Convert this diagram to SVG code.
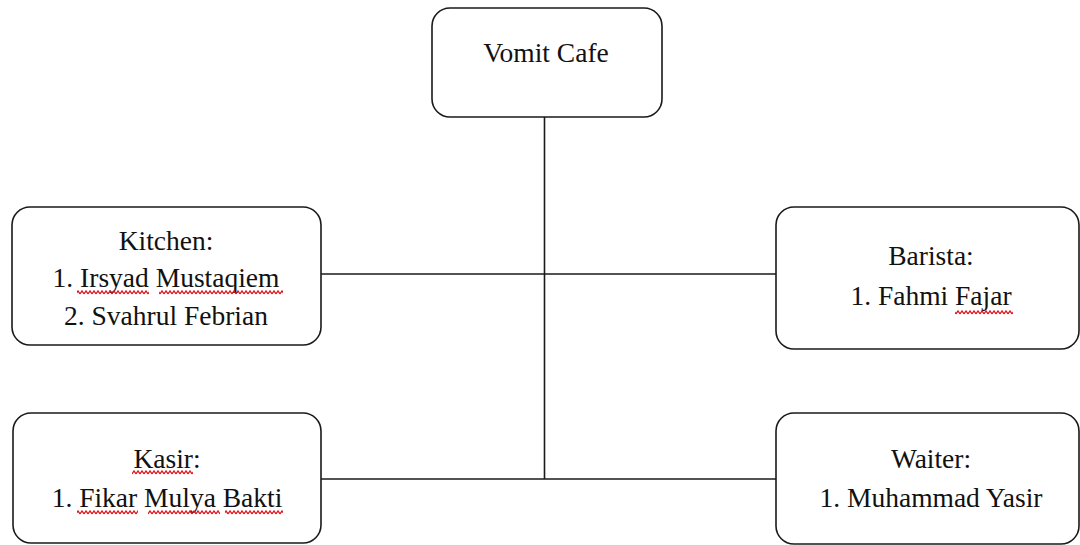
<svg xmlns="http://www.w3.org/2000/svg" width="1080" height="545" viewBox="0 0 1080 545">
  <defs>
    <style>
      .box { fill: #ffffff; stroke: #1a1a1a; stroke-width: 1.6; }
      .lbl { font-family: "Liberation Serif", "Times New Roman", serif; font-size: 27.5px; fill: #111111; text-anchor: middle; }
      .conn { stroke: #1a1a1a; stroke-width: 1.6; fill: none; }
      .spell { fill: url(#wave); }
    </style>
    <pattern id="wave" patternUnits="userSpaceOnUse" x="0" y="0" width="4" height="5">
      <path d="M0 4 L2 1 L4 4" fill="none" stroke="#e0141e" stroke-width="1.3"/>
    </pattern>
  </defs>
  <rect width="1080" height="545" fill="#ffffff"/>

  <g id="connectors">
    <line class="conn" x1="544.5" y1="117" x2="544.5" y2="479"/>
    <line class="conn" x1="321" y1="274" x2="776" y2="274"/>
    <line class="conn" x1="321" y1="479" x2="776" y2="479"/>
  </g>

  <g id="node-vomit-cafe">
    <rect class="box" x="432" y="8" width="230" height="109" rx="18" ry="18"/>
    <text class="lbl" x="546" y="62">Vomit Cafe</text>
  </g>

  <g id="node-kitchen">
    <rect class="box" x="12" y="207" width="309" height="138" rx="18" ry="18"/>
    <text class="lbl" x="166" y="250">Kitchen:</text>
    <text class="lbl" x="166" y="287">1. Irsyad Mustaqiem</text>
    <text class="lbl" x="166" y="325">2. Svahrul Febrian</text>
    <rect class="spell" x="77" y="290" width="72" height="5"/>
    <rect class="spell" x="159" y="290" width="124" height="5"/>
  </g>

  <g id="node-barista">
    <rect class="box" x="776" y="207" width="303" height="142" rx="18" ry="18"/>
    <text class="lbl" x="931" y="265">Barista:</text>
    <text class="lbl" x="931" y="305">1. Fahmi Fajar</text>
    <rect class="spell" x="955" y="310" width="58" height="5"/>
  </g>

  <g id="node-kasir">
    <rect class="box" x="13" y="413" width="308" height="130" rx="18" ry="18"/>
    <text class="lbl" x="167" y="468">Kasir:</text>
    <text class="lbl" x="167" y="507">1. Fikar Mulya Bakti</text>
    <rect class="spell" x="132" y="470" width="61" height="5"/>
    <rect class="spell" x="77" y="510" width="61" height="5"/>
    <rect class="spell" x="148" y="510" width="72" height="5"/>
    <rect class="spell" x="225" y="510" width="58" height="5"/>
  </g>

  <g id="node-waiter">
    <rect class="box" x="776" y="413" width="303" height="131" rx="18" ry="18"/>
    <text class="lbl" x="931" y="468">Waiter:</text>
    <text class="lbl" x="931" y="507">1. Muhammad Yasir</text>
  </g>
</svg>
